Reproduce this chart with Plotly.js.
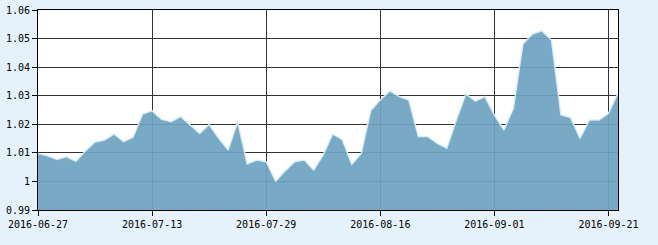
<!DOCTYPE html>
<html>
<head>
<meta charset="utf-8">
<script src="https://cdn.plot.ly/plotly-3.0.1.min.js"></script>
<style>html,body{margin:0;padding:0;background:#e6f2fb;}#chart{width:658px;height:245px;}</style>
</head>
<body>
<div id="chart"></div>
<script>
var dates = ["2016-06-27","2016-06-28","2016-06-29","2016-06-30","2016-07-01",
"2016-07-04","2016-07-05","2016-07-06","2016-07-07","2016-07-08",
"2016-07-11","2016-07-12","2016-07-13","2016-07-14","2016-07-15",
"2016-07-18","2016-07-19","2016-07-20","2016-07-21","2016-07-22",
"2016-07-25","2016-07-26","2016-07-27","2016-07-28","2016-07-29",
"2016-08-01","2016-08-02","2016-08-03","2016-08-04","2016-08-05",
"2016-08-08","2016-08-09","2016-08-10","2016-08-11","2016-08-12",
"2016-08-15","2016-08-16","2016-08-17","2016-08-18","2016-08-19",
"2016-08-22","2016-08-23","2016-08-24","2016-08-25","2016-08-26",
"2016-08-29","2016-08-30","2016-08-31","2016-09-01","2016-09-02",
"2016-09-05","2016-09-06","2016-09-07","2016-09-08","2016-09-09",
"2016-09-12","2016-09-13","2016-09-14",
"2016-09-19","2016-09-20","2016-09-21","2016-09-22"];
var values = [1.0098,1.0090,1.0077,1.0086,1.0070,
1.0107,1.0138,1.0145,1.0166,1.0139,
1.0155,1.0236,1.0247,1.0217,1.0209,
1.0227,1.0198,1.0168,1.0199,1.0151,
1.0110,1.0209,1.0061,1.0075,1.0069,
1.0001,1.0037,1.0069,1.0075,1.0040,
1.0093,1.0166,1.0147,1.0060,1.0098,
1.0248,1.0285,1.0317,1.0297,1.0285,
1.0157,1.0157,1.0133,1.0116,1.0215,
1.0306,1.0281,1.0297,1.0232,1.0180,
1.0256,1.0481,1.0516,1.0527,1.0495,
1.0233,1.0224,1.0151,
1.0215,1.0215,1.0238,1.0310];
var xTicks = ["2016-06-27","2016-07-13","2016-07-29","2016-08-16","2016-09-01","2016-09-21"];
var yTicks = [0.99,1.00,1.01,1.02,1.03,1.04,1.05,1.06];

var trace = {
  x: dates, y: values, type: 'scatter', mode: 'lines', fill: 'tozeroy',
  fillcolor: 'rgba(110,164,194,0.93)',
  line: {color: 'rgba(220,238,250,0.9)', width: 1.5},
  hoverinfo: 'x+y'
};
var font = {family: '"DejaVu Sans Mono", monospace', size: 10, color: '#000'};
var layout = {
  width: 658, height: 245,
  margin: {l: 38, r: 40, t: 10, b: 35, pad: 0},
  paper_bgcolor: '#e6f2fb', plot_bgcolor: '#ffffff',
  showlegend: false,
  font: font,
  xaxis: {
    type: 'category', range: [0, dates.length - 1],
    tickmode: 'array', tickvals: xTicks, ticktext: xTicks,
    showgrid: true, gridcolor: '#333333', gridwidth: 1,
    showline: true, linecolor: '#000', linewidth: 1, mirror: true,
    ticks: 'outside', ticklen: 5, tickcolor: '#000', tickangle: 0,
    tickfont: font, zeroline: false, fixedrange: true
  },
  yaxis: {
    range: [0.99, 1.06],
    tickmode: 'array', tickvals: yTicks,
    ticktext: yTicks.map(function(v){ return String(+v.toFixed(2)); }),
    showgrid: true, gridcolor: '#333333', gridwidth: 1,
    showline: true, linecolor: '#000', linewidth: 1, mirror: true,
    ticks: 'outside', ticklen: 5, tickcolor: '#000',
    tickfont: font, zeroline: false, fixedrange: true
  }
};
Plotly.newPlot('chart', [trace], layout, {displayModeBar: false, staticPlot: true});
</script>
</body>
</html>
